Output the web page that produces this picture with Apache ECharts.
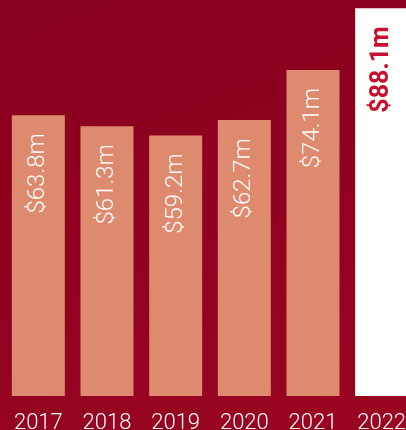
<!DOCTYPE html>
<html>
<head>
<meta charset="utf-8">
<script src="https://cdn.jsdelivr.net/npm/echarts@6/dist/echarts.min.js"></script>
<style>
html,body{margin:0;padding:0;}
#c{width:406px;height:430px;background:linear-gradient(160deg,#8a001f 0%,#8f0220 50%,#9b0521 100%);}
</style>
</head>
<body>
<div id="c"></div>
<script>
var years = ['2017','2018','2019','2020','2021','2022'];
var revenue = [63.8, 61.3, 59.2, 62.7, 74.1, 88.1];
var valueLabels = ['$63.8m','$61.3m','$59.2m','$62.7m','$74.1m','$88.1m'];
var highlightIndex = 5;

var chart = echarts.init(document.getElementById('c'), null, {renderer:'canvas'});
var data = revenue.map(function(v,i){
  var hl = i === highlightIndex;
  return {
    value: v,
    itemStyle: {color: hl ? '#ffffff' : '#de8a6e'},
    label: {
      color: hl ? '#c8102e' : '#ffffff',
      fontWeight: hl ? 'bold' : 300,
      fontSize: hl ? 25 : 24
    }
  };
});
chart.setOption({
  backgroundColor: 'transparent',
  animation: false,
  grid: {left: 4, width: 412, top: 0, bottom: 34, containLabel: false, outerBoundsMode: 'none'},
  xAxis: {
    type: 'category',
    data: years,
    axisLine: {show: false},
    axisTick: {show: false},
    axisLabel: {color: '#ffffff', fontSize: 22, fontFamily: 'Roboto', fontWeight: 300, margin: 16, interval: 0}
  },
  yAxis: {type: 'value', min: 0, max: 90, show: false, splitLine: {show: false}},
  series: [{
    type: 'bar',
    data: data,
    barWidth: 53,
    label: {
      show: true,
      position: 'insideTop',
      rotate: 90,
      align: 'right',
      verticalAlign: 'middle',
      distance: 20,
      offset: [2, 0],
      fontFamily: 'Roboto',
      formatter: function(p){ return valueLabels[p.dataIndex]; }
    }
  }]
});
</script>
</body>
</html>
